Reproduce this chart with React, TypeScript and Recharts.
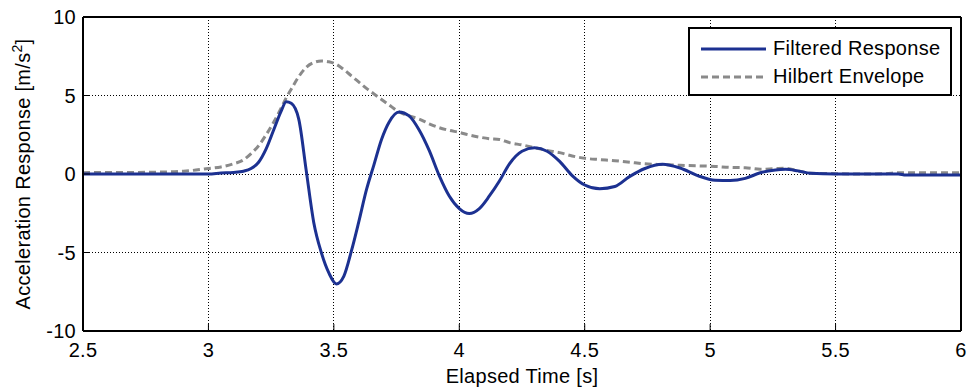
import React from 'react';
import {
  LineChart,
  Line,
  XAxis,
  YAxis,
  CartesianGrid,
  Legend,
} from 'recharts';

// sample times [s]
const times = [
  2.5, 2.6, 2.7, 2.8, 2.9, 2.95, 3.0, 3.05, 3.1, 3.14, 3.17, 3.2, 3.23, 3.26, 3.29, 3.31,
  3.33, 3.36, 3.39, 3.42, 3.45, 3.48, 3.51, 3.54, 3.57, 3.6, 3.63, 3.66, 3.69, 3.72, 3.76,
  3.8, 3.84, 3.88, 3.92, 3.96, 4.0, 4.04, 4.08, 4.12, 4.16, 4.2, 4.25, 4.3, 4.35, 4.4, 4.45,
  4.5, 4.56, 4.62, 4.68, 4.74, 4.81, 4.88, 4.95, 5.02, 5.08, 5.14, 5.2, 5.26, 5.3, 5.35,
  5.4, 5.5, 5.6, 5.7, 5.75, 5.78, 5.9, 6.0,
];

// filtered acceleration response [m/s^2]
const filtered = [
  0, 0, 0, 0, 0, 0, 0, 0.06, 0.1, 0.18, 0.35, 0.75, 1.6, 2.8, 4.0, 4.6,
  4.5, 3.5, 0.2, -3.1, -5.0, -6.3, -7.0, -6.5, -4.9, -3.0, -1.0, 0.6, 2.2, 3.3, 3.95,
  3.7, 2.8, 1.5, -0.1, -1.4, -2.2, -2.52, -2.2, -1.4, -0.45, 0.65, 1.45, 1.67, 1.45, 0.8, -0.1,
  -0.7, -0.94, -0.8, -0.15, 0.35, 0.62, 0.38, -0.1, -0.4, -0.42, -0.28, 0.08, 0.26, 0.3, 0.2,
  0.05, 0, 0, 0, 0, -0.07, -0.07, -0.07,
];

// hilbert envelope [m/s^2]
const envelope = [
  0.08, 0.1, 0.1, 0.12, 0.18, 0.25, 0.35, 0.45, 0.65, 0.9, 1.3, 1.8, 2.5, 3.3, 4.2, 4.85,
  5.4, 6.2, 6.8, 7.1, 7.2, 7.15, 6.98, 6.65, 6.25, 5.85, 5.45, 5.1, 4.75, 4.4, 3.95,
  3.7, 3.5, 3.2, 2.95, 2.78, 2.65, 2.48, 2.35, 2.25, 2.2, 2.0, 1.85, 1.68, 1.5, 1.36, 1.15,
  1.0, 0.92, 0.85, 0.75, 0.65, 0.6, 0.55, 0.52, 0.48, 0.42, 0.4, 0.3, 0.34, 0.36, 0.2,
  0.05, 0.02, 0, 0.02, 0.08, 0.08, 0.08, 0.08,
];

const xTicks = [2.5, 3, 3.5, 4, 4.5, 5, 5.5, 6];
const yTicks = [-10, -5, 0, 5, 10];

const BLUE = '#1c3191';
const GREY = '#8a8a8a';
const FONT = '"Liberation Sans", Arial, sans-serif';

const chartData = times.map((t, i) => ({ t, filtered: filtered[i], envelope: envelope[i] }));

const tickStyle = { fontSize: 20, fill: '#000', fontFamily: FONT, letterSpacing: 0.3 };
const frame = { stroke: '#000', strokeWidth: 2 };

function YTitle({ viewBox }: any) {
  const x = viewBox.x + 30;
  const y = viewBox.y + viewBox.height / 2;
  return (
    <text
      x={x}
      y={y}
      transform={`rotate(-90, ${x}, ${y})`}
      textAnchor="middle"
      fontSize={20}
      fontFamily={FONT}
      letterSpacing={0.3}
      fill="#000"
    >
      Acceleration Response [m/s
      <tspan dy={-8} fontSize={14}>2</tspan>
      <tspan dy={8}>]</tspan>
    </text>
  );
}

function XTitle({ viewBox }: any) {
  return (
    <text
      x={viewBox.x + viewBox.width / 2}
      y={viewBox.y + 52}
      textAnchor="middle"
      fontSize={20}
      fontFamily={FONT}
      letterSpacing={0.3}
      fill="#000"
    >
      Elapsed Time [s]
    </text>
  );
}

function LegendBox() {
  return (
    <svg width={264} height={69} style={{ display: 'block' }}>
      <rect x={1} y={1} width={262} height={67} fill="#fff" stroke="#000" strokeWidth={2} />
      <line x1={13} x2={78} y1={22} y2={22} stroke={BLUE} strokeWidth={3} />
      <text x={85} y={28} fontSize={20} fontFamily={FONT} letterSpacing={0.3} fill="#000">
        Filtered Response
      </text>
      <line x1={13} x2={78} y1={50} y2={50} stroke={GREY} strokeWidth={3} strokeDasharray="7 4" />
      <text x={85} y={56} fontSize={20} fontFamily={FONT} letterSpacing={0.3} fill="#000">
        Hilbert Envelope
      </text>
    </svg>
  );
}

export default function App() {
  return (
    <div style={{ position: 'absolute', left: 0, top: 0, width: 968, height: 389, background: '#fff' }}>
      <LineChart
        width={968}
        height={389}
        data={chartData}
        margin={{ top: 16, right: 6, left: 0, bottom: 0 }}
      >
        <CartesianGrid
          stroke="#000"
          strokeDasharray="1 2"
          strokeWidth={1}
          shapeRendering="crispEdges"
        />
        <XAxis
          dataKey="t"
          type="number"
          domain={[2.5, 6]}
          ticks={xTicks}
          height={58}
          tick={tickStyle}
          tickSize={-7}
          tickMargin={19}
          tickLine={{ stroke: '#000' }}
          axisLine={frame}
          label={<XTitle />}
        />
        <XAxis
          xAxisId="top"
          dataKey="t"
          type="number"
          orientation="top"
          domain={[2.5, 6]}
          ticks={xTicks}
          height={1}
          tick={false}
          tickSize={-7}
          tickLine={{ stroke: '#000' }}
          axisLine={frame}
        />
        <YAxis
          type="number"
          domain={[-10, 10]}
          ticks={yTicks}
          width={83}
          tick={tickStyle}
          tickSize={-7}
          tickMargin={14}
          tickLine={{ stroke: '#000' }}
          axisLine={frame}
          label={<YTitle />}
        />
        <YAxis
          yAxisId="right"
          orientation="right"
          type="number"
          domain={[-10, 10]}
          ticks={yTicks}
          width={1}
          tick={false}
          tickSize={-7}
          tickLine={{ stroke: '#000' }}
          axisLine={frame}
        />
        <Legend
          layout="horizontal"
          verticalAlign="middle"
          align="center"
          content={() => <LegendBox />}
          wrapperStyle={{ position: 'absolute', left: 688, top: 27, width: 264, height: 69 }}
        />
        <Line
          dataKey="envelope"
          name="Hilbert Envelope"
          type="monotone"
          stroke={GREY}
          strokeWidth={3}
          strokeDasharray="7 4"
          dot={false}
          isAnimationActive={false}
        />
        <Line
          dataKey="filtered"
          name="Filtered Response"
          type="monotone"
          stroke={BLUE}
          strokeWidth={3}
          dot={false}
          isAnimationActive={false}
        />
      </LineChart>
    </div>
  );
}
